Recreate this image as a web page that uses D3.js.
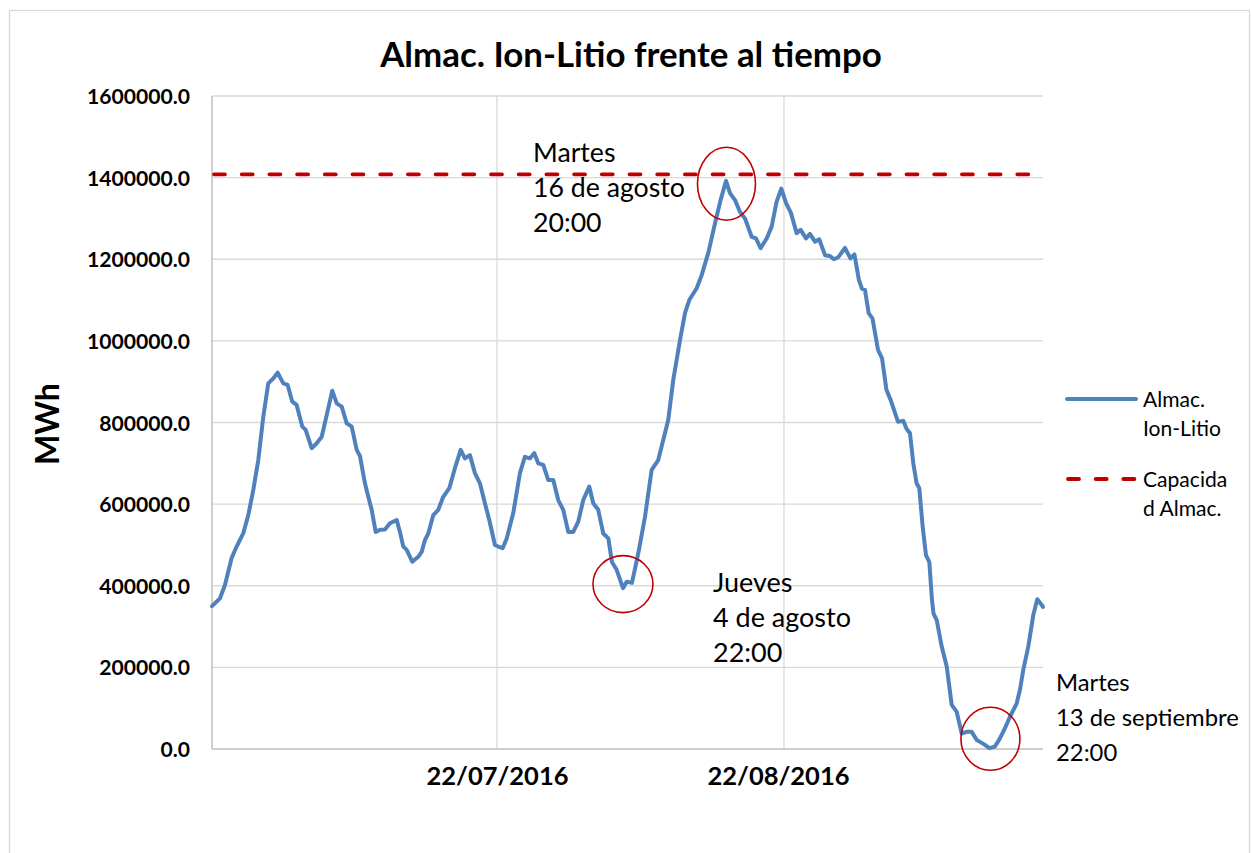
<!DOCTYPE html>
<html><head><meta charset="utf-8">
<script src="https://cdn.jsdelivr.net/npm/d3@7"></script>
<style>
body{margin:0;background:#fff}
svg{display:block}
text{font-family:Lato,"Open Sans",sans-serif;fill:#000}
</style>
</head><body>
<svg id="chart" width="1252" height="853"></svg>
<script>
// ---------- data ----------
// days elapsed since 21/06/2016 00:00
const dayOffsets = [0.22,1.08,1.62,2.34,2.88,3.60,4.14,4.68,5.22,5.76,6.30,6.84,7.31,7.92,8.39,8.89,9.36,9.97,10.34,10.98,
11.53,12.07,12.61,13.21,13.69,14.23,14.77,15.31,15.85,16.20,16.74,17.10,17.47,17.90,18.36,18.90,19.44,20.17,20.52,20.88,
21.25,21.85,22.50,22.87,23.22,23.58,24.12,24.66,25.20,25.85,26.46,27.08,27.54,28.08,28.62,29.16,29.70,30.17,30.78,31.14,
31.62,32.05,32.76,33.48,34.02,34.56,35.03,35.46,36.00,36.54,37.08,37.62,38.16,38.70,39.24,39.78,40.32,40.97,41.40,41.94,
42.48,43.03,43.42,43.93,44.61,45.01,45.58,46.26,46.99,47.71,48.42,48.96,49.50,50.04,50.77,51.31,51.77,52.57,53.11,53.82,
54.55,55.16,55.74,56.17,56.71,57.25,57.79,58.51,58.98,59.48,60.13,60.67,61.21,61.71,62.22,62.76,63.37,63.80,64.38,64.81,
65.35,65.81,66.43,66.97,67.40,67.87,68.59,69.18,69.61,70.10,70.42,70.75,71.15,71.56,72.16,72.59,73.07,73.56,74.31,74.89,
75.25,75.61,75.97,76.33,76.62,76.98,77.34,77.70,77.99,78.15,78.50,79.04,79.58,80.12,80.66,81.20,81.74,82.28,82.82,83.36,
83.71,84.18,84.79,85.33,85.87,86.41,87.14,87.49,87.85,88.39,88.93,89.36,89.84,89.98];
const storageMWh = [350000,369000,402000,468000,496000,529000,573000,635000,708000,814000,896000,908000,922000,896000,892000,851000,843000,790000,782000,737000,
749000,765000,818000,878000,847000,839000,798000,790000,733000,718000,651000,618000,586000,532000,537000,538000,553000,561000,532000,496000,
488000,459000,471000,483000,512000,528000,573000,586000,618000,639000,688000,733000,712000,720000,676000,651000,602000,561000,500000,496000,
492000,516000,578000,676000,716000,712000,725000,700000,696000,659000,659000,610000,586000,532000,532000,557000,610000,643000,602000,586000,
528000,516000,458000,439000,394000,410000,407000,479000,569000,684000,708000,757000,806000,904000,1002000,1068000,1100000,1129000,1161000,1215000,
1288000,1345000,1392000,1362000,1345000,1316000,1300000,1255000,1251000,1227000,1251000,1280000,1341000,1373000,1338000,1313000,1264000,1272000,1251000,1262000,
1243000,1249000,1210000,1208000,1200000,1205000,1228000,1202000,1212000,1149000,1128000,1125000,1068000,1055000,978000,958000,880000,853000,802000,804000,
784000,774000,700000,651000,639000,545000,475000,458000,365000,332000,316000,251000,202000,108000,91000,38000,42000,42000,22000,15000,
10000,2000,6000,26000,51000,79000,112000,145000,194000,251000,328000,367000,353000,348000];
const capacityMWh = 1408000;
const yTickValues = [0,200000,400000,600000,800000,1000000,1200000,1400000,1600000];
const xTickDays = [31,62]; // 22/07/2016, 22/08/2016
const xDomainDays = [0.22,89.98];
const seriesNames = ["Almac. Ion-Litio","Capacidad Almac."];
const legendLines = [["Almac.","Ion-Litio"],["Capacida","d Almac."]];
// highlighted points (circle centres)
const highlightDays = [55.79,44.61,84.30];
const highlightMWh = [1385000,404000,25000];
const annotationTexts = [["Martes","16 de agosto","20:00"],["Jueves","4 de agosto","22:00"],["Martes","13 de septiembre","22:00"]];

// ---------- helpers ----------
const base = new Date(2016,5,21,0,0,0);
const toDate = d => new Date(base.getTime() + d*86400000);
const dates = dayOffsets.map(toDate);

const svg = d3.select("#chart");
const L=212, R=1043, T=96, B=749;

const x = d3.scaleTime().domain(xDomainDays.map(toDate)).range([L,R]);
const y = d3.scaleLinear().domain([0,1600000]).range([B,T]);

function fitTo(sel,target){
  const cur=parseFloat(sel.attr("font-size"));
  const w=sel.node().getComputedTextLength();
  const s=cur*target/w; sel.attr("font-size",s); return s;
}

// chart border
svg.append("rect").attr("x",9.5).attr("y",10.5).attr("width",1240).attr("height",860)
  .attr("fill","#fff").attr("stroke","#d9d9d9").attr("stroke-width",1.3);

// title
const title = svg.append("text").attr("x",631).attr("y",67).attr("text-anchor","middle")
  .attr("font-weight","bold").attr("font-size",30).text("Almac. Ion-Litio frente al tiempo");
fitTo(title,502);

// horizontal gridlines
svg.append("g").selectAll("line").data(yTickValues.filter(v=>v>0)).join("line")
  .attr("x1",L).attr("x2",R).attr("y1",d=>y(d)).attr("y2",d=>y(d))
  .attr("stroke","#d9d9d9").attr("stroke-width",1.3);
// vertical gridlines
svg.append("g").selectAll("line").data(xTickDays).join("line")
  .attr("x1",d=>x(toDate(d))).attr("x2",d=>x(toDate(d))).attr("y1",T).attr("y2",B)
  .attr("stroke","#d9d9d9").attr("stroke-width",1.3);

// axes lines
svg.append("line").attr("x1",L).attr("x2",L).attr("y1",T).attr("y2",B).attr("stroke","#bfbfbf").attr("stroke-width",1.5);
svg.append("line").attr("x1",L).attr("x2",R).attr("y1",B).attr("y2",B).attr("stroke","#bfbfbf").attr("stroke-width",1.5);

// y axis labels via d3 axis
const yAxis = d3.axisLeft(y).tickValues(yTickValues).tickFormat(d3.format(".1f")).tickSize(0).tickPadding(0);
const gy = svg.append("g").attr("transform",`translate(190,0)`).call(yAxis);
gy.select(".domain").remove();
gy.selectAll("text").attr("font-family","Lato").attr("font-weight","bold").attr("fill","#000").attr("font-size",20).attr("dy","0.36em");
const ys = fitTo(gy.selectAll("text").filter(d=>d===1600000),103);
gy.selectAll("text").attr("font-size",ys);

// x axis labels
const xAxis = d3.axisBottom(x).tickValues(xTickDays.map(toDate)).tickFormat(d3.timeFormat("%d/%m/%Y")).tickSize(0).tickPadding(0);
const gx = svg.append("g").attr("transform",`translate(0,${B})`).call(xAxis);
gx.select(".domain").remove();
gx.selectAll("text").attr("font-family","Lato").attr("font-weight","bold").attr("fill","#000").attr("font-size",25).attr("dy",0).attr("y",36);
const xs = fitTo(gx.selectAll("text").filter((d,i)=>i===0),142);
gx.selectAll("text").attr("font-size",xs);
gx.selectAll("text").filter((d,i)=>i===1).attr("x",-6);

// y axis title
const yt = svg.append("text").attr("transform","translate(46,424) rotate(-90)").attr("text-anchor","middle")
  .attr("dominant-baseline","central").attr("font-weight","bold").attr("font-size",33).text("MWh");
fitTo(yt,82);

// series line
const line = d3.line().x((d,i)=>x(dates[i])).y(d=>y(d));
svg.append("path").datum(storageMWh).attr("d",line).attr("fill","none")
  .attr("stroke","#4f81bd").attr("stroke-width",4).attr("stroke-linejoin","round").attr("stroke-linecap","round");

// capacity line
svg.append("line").attr("x1",L+2).attr("x2",R).attr("y1",y(capacityMWh)).attr("y2",y(capacityMWh))
  .attr("stroke","#c00000").attr("stroke-width",3.8).attr("stroke-dasharray","11,16.7").attr("stroke-linecap","round");

// highlight circles
const radii = [[29,36.5],[30,28.5],[29.5,31.5]];
svg.append("g").selectAll("ellipse").data(highlightDays).join("ellipse")
  .attr("cx",(d,i)=>x(toDate(d))).attr("cy",(d,i)=>y(highlightMWh[i]))
  .attr("rx",(d,i)=>radii[i][0]).attr("ry",(d,i)=>radii[i][1])
  .attr("fill","none").attr("stroke","#c00000").attr("stroke-width",1.6);

// annotation texts
const annPos = [[533,162],[713,592],[1056,691]];
const annFit = [[1,152],[1,138],[1,183]];
annotationTexts.forEach((lines,k)=>{
  const probe = svg.append("text").attr("font-size",25).text(lines[annFit[k][0]]);
  const sz = fitTo(probe,annFit[k][1]); probe.remove();
  const t = svg.append("text").attr("x",annPos[k][0]).attr("y",annPos[k][1]).attr("font-size",sz);
  lines.forEach((s,j)=>t.append("tspan").attr("x",annPos[k][0]).attr("dy",j===0?0:35.2).text(s));
});

// legend
const lg = svg.append("g");
lg.append("line").attr("x1",1067).attr("x2",1136).attr("y1",399).attr("y2",399)
  .attr("stroke","#4f81bd").attr("stroke-width",4).attr("stroke-linecap","round");
lg.append("line").attr("x1",1068).attr("x2",1136).attr("y1",479).attr("y2",479)
  .attr("stroke","#c00000").attr("stroke-width",3.8).attr("stroke-dasharray","11,16.7").attr("stroke-linecap","round");
const probeL = svg.append("text").attr("font-size",21).text(legendLines[0][1]);
const legSize = fitTo(probeL,78); probeL.remove();
const legBase = [406.5,487.3];
legendLines.forEach((lines,k)=>{
  const t = lg.append("text").attr("x",1143).attr("y",legBase[k]).attr("font-size",legSize);
  lines.forEach((s,j)=>t.append("tspan").attr("x",1143).attr("dy",j===0?0:29).text(s));
});
</script>
</body></html>
